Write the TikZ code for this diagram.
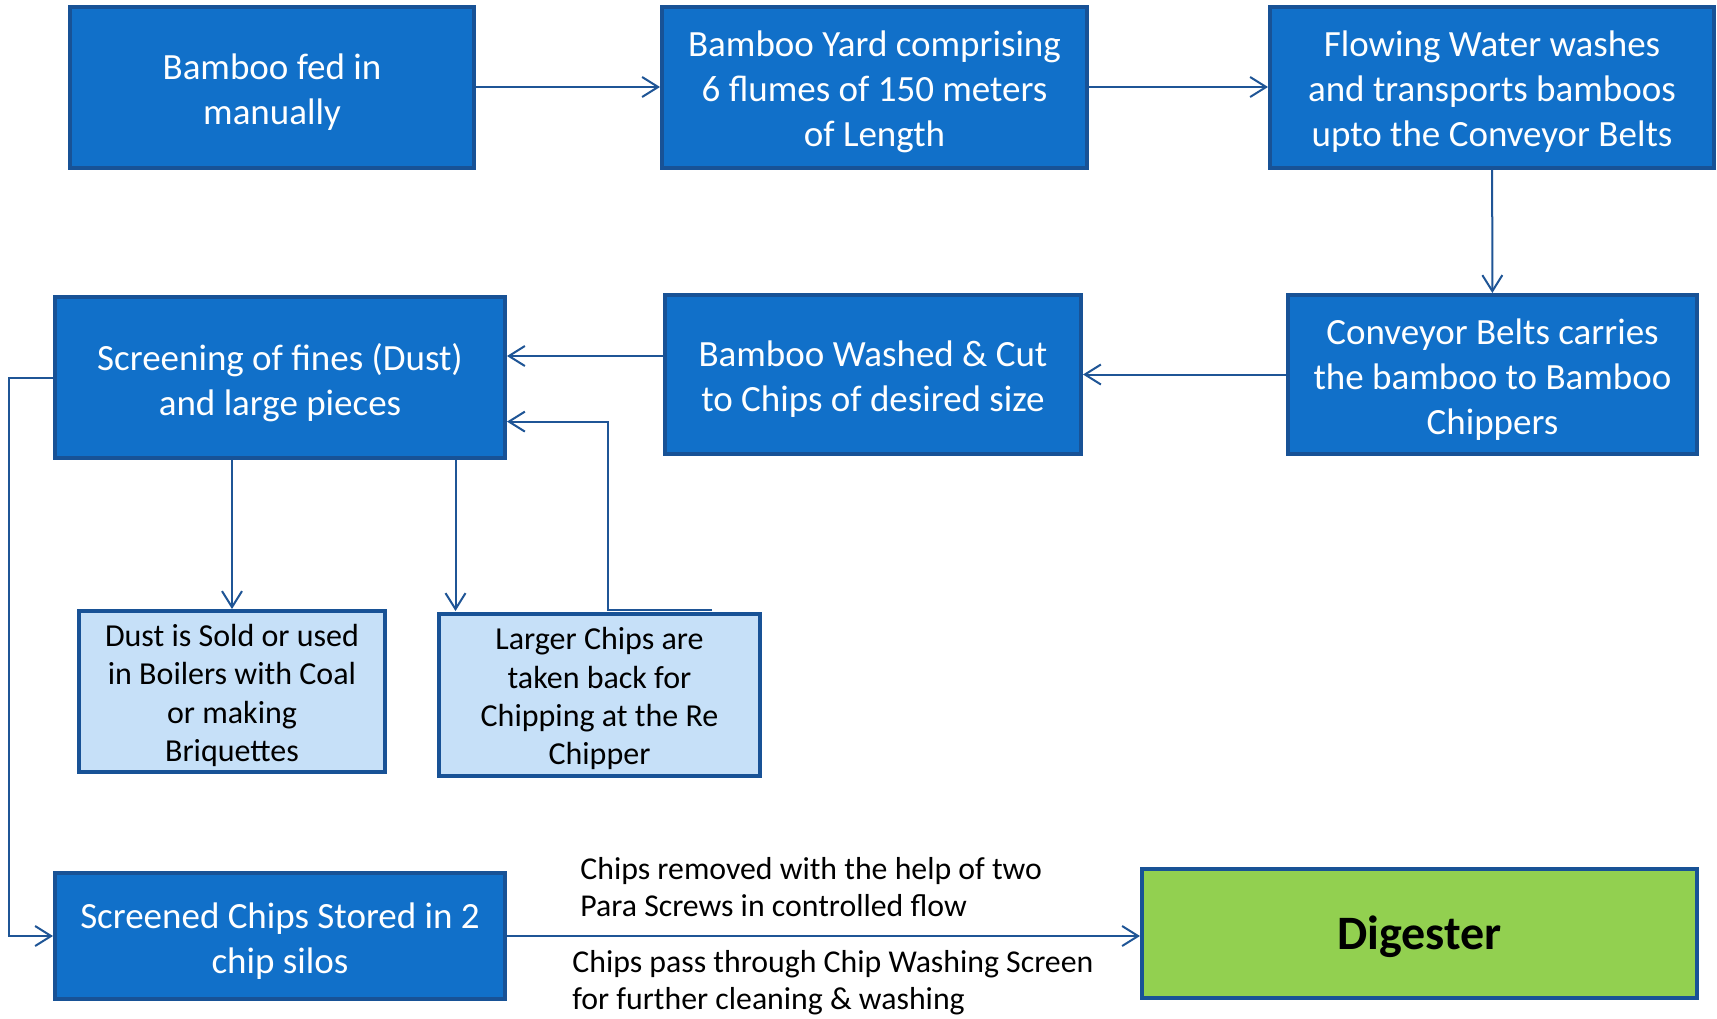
\documentclass[tikz,border=0pt]{standalone}
\usepackage{fontspec}
\setmainfont{Carlito}
\usepackage{tikz}
\usetikzlibrary{arrows.meta}

\definecolor{boxblue}{RGB}{17,112,201}
\definecolor{boxedge}{RGB}{24,82,150}
\definecolor{linkblue}{RGB}{31,85,150}
\definecolor{boxlight}{RGB}{198,224,248}
\definecolor{digestgreen}{RGB}{146,208,80}

% taller first line, to sit the text a little lower in its box
\newcommand{\boxstrut}[1][0.96em]{\rule{0pt}{#1}}

\tikzset{
	bluebox/.style={draw=boxedge, fill=boxblue, line width=2pt, text=white, align=center, inner sep=0pt, font=\fontsize{18.5}{22.5}\selectfont},
	lightbox/.style={bluebox, fill=boxlight, text=black, font=\fontsize{16}{19.2}\selectfont},
	greenbox/.style={bluebox, fill=digestgreen, text=black, font=\fontsize{24}{28}\selectfont\bfseries},
	note/.style={anchor=west, align=left, inner sep=0pt, font=\fontsize{15.9}{18.5}\selectfont},
	flow/.style={draw=linkblue, line width=1pt, -{Straight Barb[length=8pt, width=10pt, line width=1pt]}}
}

\begin{document}
\begin{tikzpicture}[x=0.5pt, y=-0.5pt]
	%%%%% START %%%%%
	
	\useasboundingbox[fill=white] (0,0) rectangle (1717,1018);
	
	% top row
	\node[bluebox, minimum width=202pt, minimum height=80.5pt] (feed) at (272, 87) {\boxstrut Bamboo fed in\\manually};
	\node[bluebox, minimum width=212.5pt, minimum height=80.5pt] (yard) at (874.5, 87) {\boxstrut Bamboo Yard comprising\\6 flumes of 150 meters\\of Length};
	\node[bluebox, minimum width=222pt, minimum height=80.5pt] (water) at (1492, 87) {\boxstrut Flowing Water washes\\and transports bamboos\\upto the Conveyor Belts};
	
	% middle row
	\node[bluebox, minimum width=204.5pt, minimum height=79.5pt] (belts) at (1492.5, 374.5) {\boxstrut Conveyor Belts carries\\the bamboo to Bamboo\\Chippers};
	\node[bluebox, minimum width=208pt, minimum height=79.5pt] (cut) at (873, 374.5) {\boxstrut Bamboo Washed \& Cut\\to Chips of desired size};
	\node[bluebox, minimum width=225pt, minimum height=80.5pt] (screen) at (280, 377.5) {\boxstrut[1.02em]Screening of fines (Dust)\\and large pieces};
	
	% screen outputs
	\node[lightbox, minimum width=153pt, minimum height=80.5pt] (dust) at (232, 691.5) {\boxstrut[0.93em]Dust is Sold or used\\in Boilers with Coal\\or making\\Briquettes};
	\node[lightbox, minimum width=160.5pt, minimum height=81pt] (large) at (599.5, 695) {\boxstrut[0.93em]Larger Chips are\\taken back for\\Chipping at the Re\\Chipper};
	
	% bottom row
	\node[bluebox, minimum width=225pt, minimum height=63pt] (silos) at (280, 936) {\boxstrut Screened Chips Stored in 2\\chip silos};
	\node[greenbox, minimum width=277.5pt, minimum height=64.5pt] (digester) at (1419.5, 933.5) {\boxstrut[0.84em]Digester};
	
	\node[note] (removed) at (580, 887) {Chips removed with the help of two\\Para Screws in controlled flow};
	\node[note] (washing) at (572, 983) {Chips pass through Chip Washing Screen\\for further cleaning \& washing};
	
	% connectors
	\draw[flow] (feed) -- (yard);
	\draw[flow] (yard) -- (water);
	\draw[flow] (water) -- (belts);
	\draw[flow] (belts) -- (cut);
	
	\coordinate (cutin) at (0, 356);
	\draw[flow] (cutin -| cut.west) -- (cutin -| screen.east);
	
	\draw[flow] (dust.north |- screen.south) -- (dust.north);
	\coordinate (largein) at (455.5, 611);
	\draw[flow] (largein |- screen.south) -- (largein);
	
	\coordinate (rechip) at (712, 610);
	\coordinate (back) at (608, 421.6);
	\draw[flow] (rechip) -| (back) -- (back -| screen.east);
	
	\draw[flow] (screen.west) -- ++(-44, 0) |- (silos.west);
	\draw[flow] (silos.east) -- (silos.east -| digester.west);
	
	%%%%% END %%%%%
\end{tikzpicture}
\end{document}
